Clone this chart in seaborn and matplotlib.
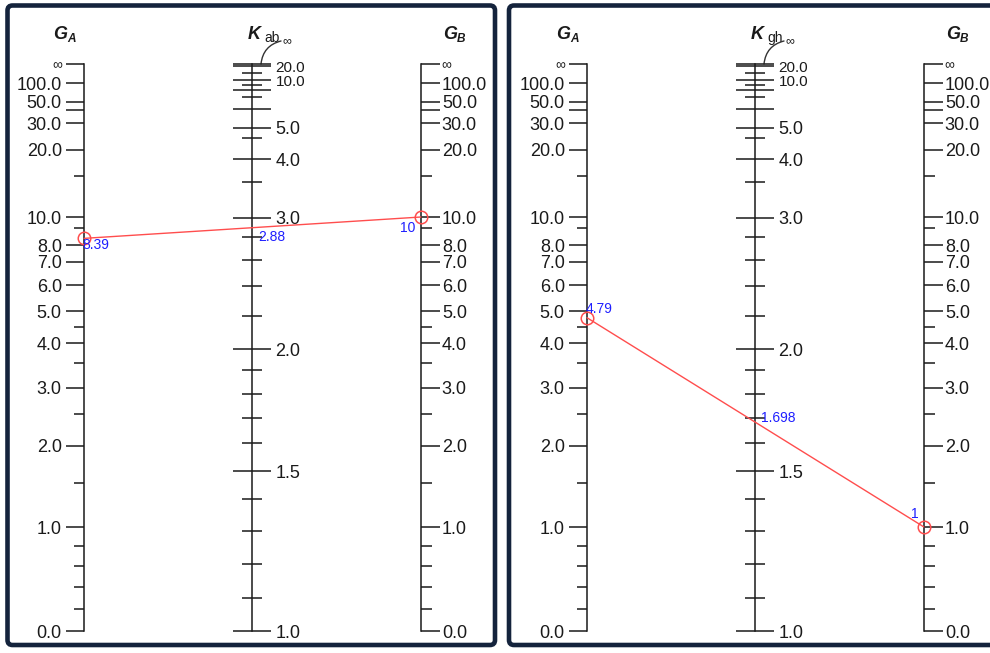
import numpy as np
import matplotlib
matplotlib.use('Agg')
import matplotlib.pyplot as plt
import seaborn as sns
from matplotlib.ticker import FixedLocator, FixedFormatter, NullLocator
from matplotlib.patches import FancyBboxPatch, ConnectionPatch

INF = 1000.0  # stands for the "infinity" end of every scale

# readings shown on the two charts
k_names = ['ab', 'gh']
ga_values = [8.39, 4.79]
gb_values = [10, 1]
k_values = [2.88, 1.698]
ga_text = ['8.39', '4.79']
gb_text = ['10', '1']
k_text = ['2.88', '1.698']

# G scale ticks
g_major = [0, 1, 2, 3, 4, 5, 6, 7, 8, 10, 20, 30, 40, 50, 100, INF]
g_major_labels = ['0.0', '1.0', '2.0', '3.0', '4.0', '5.0', '6.0', '7.0', '8.0',
                  '10.0', '20.0', '30.0', '', '50.0', '100.0', '∞']
g_minor = [0.2, 0.4, 0.6, 0.8, 1.5, 2.5, 3.5, 4.5, 9, 15]

# K scale ticks
k_major = [1.0, 1.5, 2.0, 3.0, 4.0, 5.0, 6.0, 8.0, 10.0, 20.0, INF]
k_major_labels = ['1.0', '1.5', '2.0', '3.0', '4.0', '5.0', '', '', '10.0', '20.0', '']
k_minor = [1.1, 1.2, 1.3, 1.4, 1.6, 1.7, 1.8, 1.9, 2.2, 2.4, 2.6, 2.8, 3.5, 4.5, 7, 9, 15]

# the printed chart is not uniform: value -> height (px) above the bottom end
g_cal_values = [0, 0.2, 0.4, 0.6, 0.8, 1, 1.5, 2, 2.5, 3, 3.5, 4, 4.5, 5, 6, 7, 8, 9,
                10, 15, 20, 30, 40, 50, 100, INF]
g_cal_height = [0, 22, 44, 65, 85, 104, 148, 185, 217, 243, 268, 288, 304, 320, 346,
                369, 386, 403, 414, 455, 481, 508, 521, 529, 548, 567]
k_cal_values = [1.0, 1.1, 1.2, 1.3, 1.4, 1.5, 1.6, 1.7, 1.8, 1.9, 2.0, 2.2, 2.4, 2.6,
                2.8, 3.0, 3.5, 4.0, 4.5, 5, 6, 7, 8, 9, 10, 15, 20, INF]
k_cal_height = [0, 33, 67, 100, 132, 160, 188, 213, 237, 261, 282, 315, 345, 371, 394,
                413, 449, 472, 493, 503, 522, 534, 541, 546, 551, 558, 565, 567]

W, H = 990, 653
Y_TOP, Y_BOT = 64, 631
PX = 0.72  # points per pixel at dpi 100

sns.set_theme(style='white')
plt.rcParams['font.family'] = ['Liberation Sans', 'DejaVu Sans']

fig = plt.figure(figsize=(W / 100, H / 100), dpi=100)
fig.patch.set_facecolor('white')

# background layer in pixel coordinates: frames and titles
bg = fig.add_axes([0, 0, 1, 1], zorder=0)
bg.set_xlim(0, W)
bg.set_ylim(H, 0)
bg.axis('off')

ink = '#1a1a1a'
red = '#ff4d4d'
blue = '#1f1fff'
offsets = [0, 503]
frame_left = [7.5, 509]
frame_width = [487.5, 500]

label_style = [
    dict(a=('left', 'top', -2, 0), k=('left', 'top', 6, -1), b=('right', 'top', -6, -4)),
    dict(a=('left', 'bottom', -1, 2), k=('left', 'center', 6, 0), b=('right', 'bottom', -5, 6)),
]


def scale_axis(x_px, side, cal_v, cal_h, major, labels, minor, lo, direction,
               maj_len, min_len, pad):
    left = x_px if side == 'left' else x_px - 2
    ax = fig.add_axes([left / W, (H - Y_BOT) / H, 2 / W, (Y_BOT - Y_TOP) / H], zorder=2)
    ax.patch.set_visible(False)
    ax.set_yscale('function', functions=(lambda v: np.interp(v, cal_v, cal_h),
                                         lambda h: np.interp(h, cal_h, cal_v)))
    ax.set_ylim(lo, INF)
    ax.set_xlim((0, 1) if side == 'left' else (-1, 0))
    ax.xaxis.set_major_locator(NullLocator())
    ax.xaxis.set_minor_locator(NullLocator())
    for s in ax.spines:
        ax.spines[s].set_visible(s == side)
    ax.spines[side].set_color(ink)
    ax.spines[side].set_linewidth(1.1)
    if side == 'left':
        ax.yaxis.tick_left()
    else:
        ax.yaxis.tick_right()
    ax.yaxis.set_major_locator(FixedLocator(major))
    ax.yaxis.set_major_formatter(FixedFormatter(labels))
    ax.yaxis.set_minor_locator(FixedLocator(minor))
    ax.tick_params(axis='y', which='major', direction=direction, length=maj_len,
                   width=1.1, color=ink, pad=pad, labelsize=13, labelcolor=ink)
    ax.tick_params(axis='y', which='minor', direction=direction, length=min_len,
                   width=1.1, color=ink)
    for t in ax.get_yticklabels():
        if t.get_text() == '∞':
            t.set_fontsize(10)
    return ax


for i, off in enumerate(offsets):
    frame = FancyBboxPatch((frame_left[i], 5.5), frame_width[i], 639.5,
                           boxstyle='round,pad=0,rounding_size=5', lw=3.3,
                           ec='#14233c', fc='white', zorder=1)
    bg.add_patch(frame)

    # titles
    bg.text(53 + off, 39, 'G', fontsize=13, fontweight='bold', style='italic',
            color=ink, va='baseline', ha='left')
    bg.text(67 + off, 42, 'A', fontsize=8.5, fontweight='bold', style='italic',
            color=ink, va='baseline', ha='left')
    bg.text(248 + off, 39, 'K', fontsize=13, fontweight='bold', style='italic',
            color=ink, va='baseline', ha='left')
    bg.text(264 + off, 42, k_names[i], fontsize=10, color=ink, va='baseline', ha='left')
    bg.text(282 + off, 41, '∞', fontsize=9, color=ink, va='center', ha='left')
    bg.annotate('', xy=(261 + off, 64), xytext=(281 + off, 41),
                arrowprops=dict(arrowstyle='-', lw=1, color='#333333',
                                connectionstyle='arc3,rad=0.35', shrinkA=0, shrinkB=0))
    bg.text(443 + off, 39, 'G', fontsize=13, fontweight='bold', style='italic',
            color=ink, va='baseline', ha='left')
    bg.text(457 + off, 42, 'B', fontsize=8.5, fontweight='bold', style='italic',
            color=ink, va='baseline', ha='left')

    ax_a = scale_axis(84 + off, 'left', g_cal_values, g_cal_height, g_major,
                      g_major_labels, g_minor, 0, 'out', 13, 7, 3)
    ax_k = scale_axis(252 + off, 'right', k_cal_values, k_cal_height, k_major,
                      k_major_labels, k_minor, 1.0, 'inout', 28, 15, 3)
    ax_b = scale_axis(421 + off, 'right', g_cal_values, g_cal_height, g_major,
                      g_major_labels, g_minor, 0, 'out', 13.5, 8, 1.5)

    # the two crowded labels at the top of the K scale are a bit smaller
    for t in ax_k.get_yticklabels():
        if t.get_text() in ('20.0', '10.0'):
            t.set_fontsize(11)

    # reading line between the two G values
    con = ConnectionPatch(xyA=(0, ga_values[i]), coordsA=ax_a.transData,
                          xyB=(0, gb_values[i]), coordsB=ax_b.transData,
                          color=red, lw=1.0, zorder=5)
    fig.add_artist(con)
    for ax, g in ((ax_a, ga_values[i]), (ax_b, gb_values[i])):
        ax.plot([0], [g], marker='o', ms=9, mfc='none', mec=red, mew=1.1,
                clip_on=False, zorder=6)

    st = label_style[i]
    for ax, key, val, txt in ((ax_a, 'a', ga_values[i], ga_text[i]),
                              (ax_k, 'k', k_values[i], k_text[i]),
                              (ax_b, 'b', gb_values[i], gb_text[i])):
        ha, va, dx, dy = st[key]
        ax.annotate(txt, xy=(0, val), xytext=(dx * PX, dy * PX), textcoords='offset points',
                    ha=ha, va=va, fontsize=10, color=blue, annotation_clip=False, zorder=7)

fig.savefig('out.png', dpi=100)
